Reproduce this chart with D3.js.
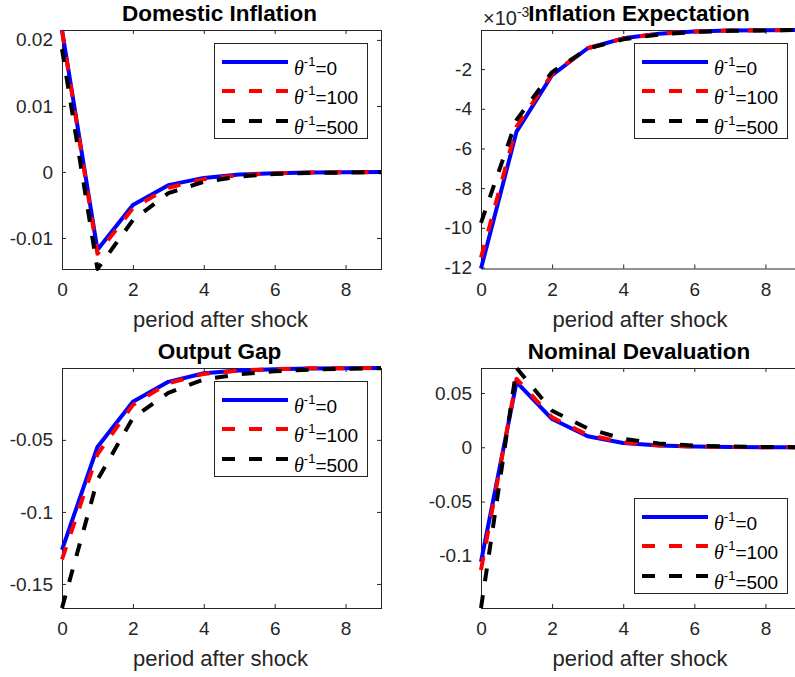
<!DOCTYPE html>
<html><head><meta charset="utf-8">
<script src="https://cdn.jsdelivr.net/npm/d3@7"></script>
<style>
html,body{margin:0;padding:0;background:#fff;overflow:hidden;}
svg{display:block;}
</style></head>
<body>
<svg id="chart" width="795" height="677"></svg>
<script>
// ---------------- data ----------------
const periods = [0,1,2,3,4,5,6,7,8,9];
const thetaInv = [0, 100, 500];           // legend values θ^{-1}
const xTicks = [0,2,4,6,8];

// Domestic Inflation
const domInfl0   = [0.0215,-0.0118,-0.0050,-0.0020,-0.0009,-0.0004,-0.0002,-0.0001,-0.00004,-0.00002];
const domInfl100 = [0.0214,-0.0124,-0.0055,-0.0024,-0.0011,-0.0005,-0.0002,-0.0001,-0.00005,-0.00002];
const domInfl500 = [0.0186,-0.0147,-0.0073,-0.0032,-0.0015,-0.0007,-0.0003,-0.00015,-0.0001,-0.00003];
const domInflTicks = [0.02,0.01,0,-0.01];
const domInflTickLabels = ["0.02","0.01","0","-0.01"];

// Inflation Expectation (in units of 10^-3)
const inflExp0   = [-12.05,-5.15,-2.30,-0.95,-0.45,-0.22,-0.11,-0.06,-0.04,-0.03];
const inflExp100 = [-11.50,-4.90,-2.25,-0.95,-0.46,-0.22,-0.11,-0.06,-0.04,-0.03];
const inflExp500 = [-9.75,-4.56,-2.15,-0.97,-0.50,-0.26,-0.13,-0.07,-0.05,-0.03];
const inflExpTicks = [-2,-4,-6,-8,-10,-12];
const inflExpTickLabels = ["-2","-4","-6","-8","-10","-12"];

// Output Gap
const gap0   = [-0.1264,-0.0549,-0.0236,-0.0097,-0.0037,-0.0019,-0.0009,-0.0004,-0.0002,-0.0001];
const gap100 = [-0.1330,-0.0600,-0.0257,-0.0106,-0.0042,-0.0019,-0.0008,-0.0003,-0.0002,-0.0001];
const gap500 = [-0.1667,-0.0778,-0.0347,-0.0174,-0.0080,-0.0045,-0.0024,-0.0012,-0.0006,-0.0003];
const gapTicks = [-0.05,-0.1,-0.15];
const gapTickLabels = ["-0.05","-0.1","-0.15"];

// Nominal Devaluation
const dev0   = [-0.1056,0.0600,0.0260,0.0102,0.0040,0.0016,0.0006,0.0003,0.0001,0.00005];
const dev100 = [-0.1130,0.0630,0.0275,0.0114,0.0046,0.0018,0.0007,0.0003,0.0001,0.00005];
const dev500 = [-0.1480,0.0730,0.0336,0.0173,0.0078,0.0035,0.0016,0.0007,0.0003,0.0001];
const devTicks = [0.05,0,-0.05,-0.1];
const devTickLabels = ["0.05","0","-0.05","-0.1"];

// ---------------- layout / style ----------------
const SANS = "'Liberation Sans', Arial, Helvetica, sans-serif";
const SERIF = "'Liberation Serif', 'Times New Roman', serif";
const AX = "#262626";
const styles = [
  {color:"#0000ff", dash:null},
  {color:"#ff0000", dash:"13,14"},
  {color:"#000000", dash:"13,14"}
];

const panels = [
  {title:"Domestic Inflation", series:[domInfl0,domInfl100,domInfl500], ticks:domInflTicks, labels:domInflTickLabels,
   x:[62,381], y:[269,30], legend:"top"},
  {title:"Inflation Expectation", series:[inflExp0,inflExp100,inflExp500], ticks:inflExpTicks, labels:inflExpTickLabels,
   x:[481,801], y:[268.5,30], legend:"top", exponent:"-3"},
  {title:"Output Gap", series:[gap0,gap100,gap500], ticks:gapTicks, labels:gapTickLabels,
   x:[62,381], y:[608,368], legend:"top"},
  {title:"Nominal Devaluation", series:[dev0,dev100,dev500], ticks:devTicks, labels:devTickLabels,
   x:[481,801], y:[608,368], legend:"bottom"}
];

const svg = d3.select("#chart");

panels.forEach(p => {
  const g = svg.append("g");
  const all = p.series.flat();
  const xs = d3.scaleLinear().domain([0,9]).range(p.x);
  const ys = d3.scaleLinear().domain(d3.extent(all)).range(p.y);
  const [x0,x1] = p.x, [yb,yt] = p.y;

  // axes (inward ticks, all four sides)
  const fmtX = d => String(d);
  const bottom = g.append("g").attr("transform",`translate(0,${yb})`)
    .call(d3.axisBottom(xs).tickValues(xTicks).tickFormat(fmtX).tickSizeInner(-4).tickSizeOuter(0).tickPadding(14));
  const top = g.append("g").attr("transform",`translate(0,${yt})`)
    .call(d3.axisTop(xs).tickValues(xTicks).tickFormat("").tickSizeInner(-4).tickSizeOuter(0));
  const left = g.append("g").attr("transform",`translate(${x0},0)`)
    .call(d3.axisLeft(ys).tickValues(p.ticks).tickFormat((d,i)=>p.labels[i]).tickSizeInner(-4).tickSizeOuter(0).tickPadding(9));
  const right = g.append("g").attr("transform",`translate(${x1},0)`)
    .call(d3.axisRight(ys).tickValues(p.ticks).tickFormat("").tickSizeInner(-4).tickSizeOuter(0));
  [bottom,top,left,right].forEach(a=>{
    a.select(".domain").remove();
    a.selectAll(".tick line").attr("stroke",AX).attr("stroke-width",1);
    a.selectAll(".tick text").attr("fill",AX).style("font-family",SANS).style("font-size","19px");
  });
  g.append("rect").attr("x",x0+0.5).attr("y",yt+0.5).attr("width",x1-x0).attr("height",yb-yt)
    .attr("fill","none").attr("stroke",AX).attr("stroke-width",1);

  // lines
  const line = d3.line().x((d,i)=>xs(periods[i])).y(d=>ys(d));
  p.series.forEach((s,k)=>{
    g.append("path").datum(s).attr("d",line)
      .attr("fill","none").attr("stroke",styles[k].color).attr("stroke-width",4)
      .attr("stroke-linejoin","round")
      .attr("stroke-dasharray",styles[k].dash);
  });

  // x label
  g.append("text").attr("x",(x0+x1)/2 - 1).attr("y",yb+58).attr("text-anchor","middle")
    .style("font-family",SANS).style("font-size","22px").attr("fill",AX).text("period after shock");

  // exponent
  if (p.exponent) {
    const t = g.append("text").attr("x",x0+2).attr("y",yt-5)
      .style("font-family",SANS).style("font-size","20px").attr("fill",AX);
    t.append("tspan").text("×10");
    t.append("tspan").attr("dy",-8).style("font-size","14px").text(p.exponent);
  }

  // title
  g.append("text").attr("x",(x0+x1)/2 - 2).attr("y",yt-9).attr("text-anchor","middle")
    .style("font-family",SANS).style("font-size","22.5px").style("font-weight","bold").attr("fill","#000")
    .text(p.title);

  // legend
  const lw = 153, lh = 95;
  const lx = x1 - 14 - lw;
  const ly = p.legend === "top" ? yt + 13 : yb - 15 - lh;
  const lg = g.append("g");
  lg.append("rect").attr("x",lx+0.5).attr("y",ly+0.5).attr("width",lw).attr("height",lh)
    .attr("fill","#fff").attr("stroke",AX).attr("stroke-width",1);
  const offs = [19,48,78];
  thetaInv.forEach((v,k)=>{
    const yy = ly + offs[k];
    lg.append("line").attr("x1",lx+8).attr("x2",lx+74).attr("y1",yy).attr("y2",yy)
      .attr("stroke",styles[k].color).attr("stroke-width",4).attr("stroke-dasharray",styles[k].dash);
    const t = lg.append("text").attr("x",lx+80).attr("y",yy+13)
      .style("font-family",SANS).style("font-size","19px").attr("fill","#000");
    t.append("tspan").style("font-family",SERIF).style("font-style","italic").style("font-size","20px").text("θ");
    t.append("tspan").attr("dy",-9).style("font-size","13px").text("-1");
    t.append("tspan").attr("dy",9).text("=" + v);
  });
});
</script>
</body></html>
